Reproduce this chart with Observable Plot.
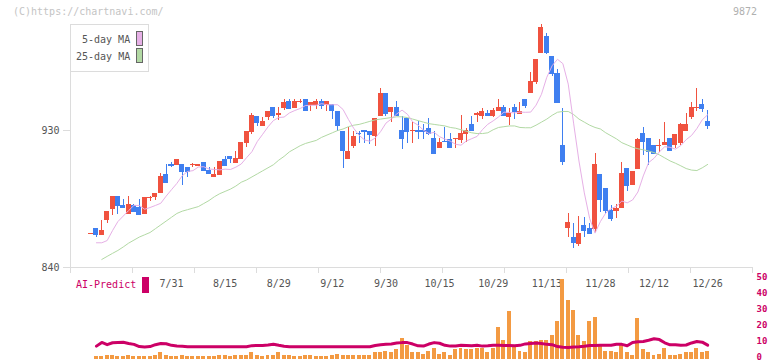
<!DOCTYPE html>
<html><head><meta charset="utf-8">
<script src="https://cdn.jsdelivr.net/npm/d3@7"></script>
<script src="https://cdn.jsdelivr.net/npm/@observablehq/plot@0.6"></script>
<style>
body{margin:0;background:#fff;}
#chart{position:relative;width:772px;height:361px;font-family:"DejaVu Sans Mono",monospace;overflow:hidden;}
#chart svg{position:absolute;left:0;}
.t{position:absolute;font-size:10px;line-height:10px;white-space:nowrap;z-index:5;}
.sw{position:absolute;z-index:5;}
</style></head><body>
<div id="chart"></div>
<script>
// ---- data ----
const dateLabels = ["7/31","8/15","8/29","9/12","9/30","10/15","10/29","11/13","11/28","12/12","12/26"];
const dateIndex  = [15,25,35,45,55,65,75,85,95,105,115];
const priceTicks = [840, 930];
const predictTicks = [0,10,20,30,40,50];
const prevCloses = [861, 857, 844, 857];

const opens = [862.0,865.4,861.0,870.9,878.1,886.6,880.7,874.8,880.7,879.6,
874.8,885.3,886.0,888.4,901.3,907.7,907.2,907.7,905.5,907.0,
906.6,909.0,903.9,899.3,900.7,911.0,913.1,908.5,911.2,921.7,
928.9,939.2,932.6,938.8,945.1,939.6,944.7,949.1,944.7,948.4,
950.4,946.2,946.2,949.1,946.2,947.1,942.7,929.3,911.2,919.5,
928.2,930.0,929.3,926.3,939.4,954.1,941.8,945.1,930.0,937.9,
929.6,930.0,930.0,931.3,924.7,918.4,923.0,924.1,923.8,923.3,
927.6,933.9,940.3,939.4,941.2,939.4,942.3,945.1,938.8,945.1,
940.5,950.4,954.5,961.8,980.8,991.8,978.6,967.4,920.1,865.8,
859.5,855.1,867.6,865.4,864.7,901.1,891.7,877.4,877.0,879.0,
905.0,894.1,904.4,928.0,924.7,919.9,919.7,920.1,924.7,920.4,
921.7,929.6,938.3,944.7,947.1,935.9];
const highs = [862.3,865.4,870.9,876.8,886.6,886.6,884.7,886.6,881.4,884.7,
886.0,886.6,888.6,902.0,907.7,909.0,911.0,907.7,905.5,908.1,
907.7,909.0,905.5,905.9,909.6,913.1,913.1,916.2,921.9,929.3,
941.4,939.2,938.8,942.5,945.1,945.1,950.4,950.4,950.4,950.4,
950.4,948.4,950.4,950.4,949.1,947.1,942.7,929.3,932.2,929.3,
929.3,930.0,929.3,937.7,957.8,954.1,945.1,949.1,939.2,937.9,
935.5,936.1,933.9,937.9,929.3,924.7,932.1,927.8,924.7,939.9,
931.3,939.4,941.6,944.7,943.4,944.7,950.4,946.7,944.5,947.3,
948.4,950.4,968.3,976.6,999.6,993.7,978.6,970.1,944.7,875.7,
869.1,873.5,873.1,869.1,914.7,901.1,891.7,880.7,881.6,908.8,
905.0,903.1,925.0,932.0,924.7,919.9,924.3,935.3,924.7,927.4,
934.5,941.2,948.4,957.6,950.4,943.1];
const lows = [861.7,859.9,861.0,868.7,874.2,874.8,879.0,874.8,876.4,874.2,
874.8,883.4,884.0,888.4,895.4,905.9,907.2,894.1,899.3,905.5,
906.6,903.3,901.3,899.3,900.7,906.6,908.5,908.5,911.2,918.6,
927.4,932.6,932.6,936.6,937.7,936.6,943.1,944.0,944.7,947.5,
942.2,942.7,944.0,944.0,942.7,937.4,929.3,905.3,911.2,918.4,
921.7,921.7,920.6,919.5,939.4,939.4,935.5,939.4,917.5,921.7,
921.7,924.1,924.1,926.7,914.5,918.4,921.9,918.4,918.4,921.7,
922.1,929.3,935.5,937.2,939.4,938.8,942.3,939.4,933.0,937.2,
940.5,944.5,954.3,960.0,980.8,980.0,965.5,948.0,907.0,859.9,
852.7,854.0,859.9,861.5,863.0,876.4,875.0,870.2,872.4,879.0,
890.1,894.1,904.4,913.8,907.2,914.5,915.5,920.1,916.4,918.2,
920.0,929.6,937.2,942.7,941.6,930.7];
const closes = [862.2,861.0,864.3,876.8,886.6,880.3,879.0,881.4,876.4,874.2,
886.0,885.8,888.6,899.8,895.4,906.6,911.0,902.6,902.6,907.2,
907.7,903.3,901.3,901.1,909.6,906.6,911.0,911.6,921.9,929.3,
939.9,934.8,936.1,942.5,939.4,941.4,948.4,944.0,949.1,949.2,
942.2,948.4,949.1,945.8,949.1,942.2,932.8,916.4,916.4,926.3,
927.2,928.5,926.7,937.7,954.1,940.7,945.1,939.4,924.1,928.7,
930.2,928.7,928.7,927.6,914.5,922.3,921.9,918.4,924.7,928.2,
930.0,929.3,940.7,942.3,939.4,942.9,945.1,939.4,941.2,941.8,
942.3,945.8,962.2,976.6,997.9,980.4,966.8,948.0,909.2,869.8,
856.0,862.1,863.6,861.5,907.7,884.0,876.8,871.3,878.5,901.8,
893.4,903.1,924.1,922.3,915.8,914.5,920.1,922.1,916.4,927.4,
933.9,933.9,944.9,945.1,943.8,932.6];
const ma25 = [null,null,
845.3,847.3,849.3,851.2,853.5,856,858,860,861.5,863,
865.5,868,870.5,873,875.5,877,878,879,880,882,
884,886.5,888.5,890,891.5,893.5,896,897.5,899.5,901.5,
903.5,905.5,907.5,910.5,913,916,918,920,921.5,922.5,
923.5,925.5,927,928.5,930,931,932.5,933.5,934,935,
936,937,937.5,938,938.5,939,939,938.5,937.5,936.5,
935.5,934.5,934,933.5,933,932,931.5,930.5,929.5,928.5,
928,928,928.5,930.5,932,932.5,933,933,932,931.8,
931.8,933.5,935.5,937.5,940,942,942.5,942.5,940.5,937.5,
935.5,933.5,932,931,928.5,926.5,924.5,922,920.5,919,
918,917.3,916.5,915.5,914,912,910,908.5,906.8,905,
904,903.7,905.5,907.7];
const barValues = [null,
1.3,1.3,2.5,2.5,1.7,1.3,2.5,1.3,1.3,1.7,
1.3,2.5,4.4,1.9,1.3,1.3,1.9,1.3,1.3,1.3,
1.3,1.3,1.3,1.9,2.5,1.3,1.9,2.5,2.5,4.4,
1.9,1.3,2.5,2.5,3.8,2.5,2.5,1.3,1.3,1.9,
1.9,1.3,1.3,1.3,1.9,3.1,2.5,2.5,2.5,1.9,
2.5,2.5,4.4,4.4,5.0,4.2,5.7,12.6,8.2,4.4,
3.8,3.1,5.0,6.9,3.1,3.8,2.3,5.7,6.9,5.7,
5.7,6.9,6.9,3.8,6.3,20.1,11.9,29.6,8.2,5.0,
4.4,10.7,11.3,11.9,11.9,14.5,23.3,50.3,36.5,30.8,
14.5,11.3,23.3,25.8,8.2,5.0,5.0,3.8,8.8,4.4,
2.3,25.2,5.7,4.4,2.5,3.1,6.3,1.9,1.9,3.1,
3.8,4.4,6.9,3.8,5.0];
const aiPredict = [null,
8.1,10.4,9.0,10.2,10.4,10.5,9.8,9.2,7.8,7.6,
7.8,9.0,9.8,9.6,8.6,8.2,8.0,7.7,7.7,7.7,
7.7,7.7,7.7,7.7,7.7,7.7,7.7,7.7,7.7,8.4,
8.5,8.5,8.8,9.3,8.6,8.0,7.7,7.7,7.7,7.7,
7.7,7.7,7.7,7.7,7.7,7.7,7.7,7.7,7.7,7.7,
7.7,7.7,8.5,9.0,9.2,9.4,10.0,10.3,10.3,9.4,
8.3,8.1,9.4,10.3,9.9,8.6,8.1,8.2,8.6,8.5,
8.3,8.6,8.1,8.3,8.6,8.6,8.5,8.5,8.4,8.6,
9.5,9.8,10.1,9.7,9.2,9.0,7.8,7.4,7.3,7.5,
7.7,8.0,8.5,8.5,8.6,8.6,8.6,9.3,9.2,8.3,
10.4,10.8,11.0,11.8,12.7,12.2,10.2,8.9,9.0,8.6,
8.8,10.1,11.0,10.6,8.7];

// ---- tables built from the arrays ----
const candles = closes.map((c, i) => ({i, o: opens[i], h: highs[i], l: lows[i], c}));
const allCloses = prevCloses.concat(closes);
const ma5Rows = closes.slice(0, closes.length - 1).map((_, j) => ({i: j + 1, v: d3.mean(allCloses.slice(j, j + 5))}));
const ma25Rows = ma25.map((v, i) => ({i, v}));
const barRows = barValues.map((v, i) => ({i, v}));
const aiRows = aiPredict.map((v, i) => ({i, v}));
const dateMap = new Map(dateIndex.map((d, k) => [d, dateLabels[k]]));

// ---- styling ----
const UP = "#f0523f", DOWN = "#3f7ff0";
const PINK = "#e6b0e6", GREEN = "#b2d9a4";
const MAGENTA = "#cc0066", ORANGE = "#f39a42";
const xDomain = [-3.84, 123.37];
const gridTicks = d3.range(12).map(k => xDomain[0] + k * (xDomain[1] - xDomain[0]) / 11);
const bodyHalf = 0.47, barHalf = 0.37, minBody = 0.7;
const pad = d => Math.max(0, minBody - Math.abs(d.o - d.c)) / 2;
const bodyLo = d => Math.min(d.o, d.c) - pad(d);
const bodyHi = d => Math.max(d.o, d.c) + pad(d);
const isUp = d => d.c >= d.o;
const crisp = {shapeRendering: "crispEdges"};

const topPlot = Plot.plot({
  width: 772, height: 361,
  marginLeft: 70, marginRight: 20, marginTop: 24, marginBottom: 94,
  x: {domain: xDomain, axis: null, label: null},
  y: {domain: [840, 999.64], axis: null, label: null},
  style: {fontFamily: "DejaVu Sans Mono, monospace", fontSize: "10px", background: "transparent", color: "#555"},
  marks: [
    Plot.frame({anchor: "left", stroke: "#dcdcdc"}),
    Plot.frame({anchor: "bottom", stroke: "#dcdcdc"}),
    Plot.axisY(priceTicks, {tickSize: 7, tickPadding: 4, stroke: "#dcdcdc", fill: "#555", label: null}),
    Plot.axisX(gridTicks, {tickSize: 6, tickFormat: () => "", stroke: "#dcdcdc", label: null}),
    Plot.axisX(dateIndex, {tickSize: 0, tickPadding: 12, tickFormat: d => dateMap.get(d), fill: "#555", label: null}),
    Plot.ruleX(candles, {filter: isUp, x: "i", y1: "l", y2: "h", stroke: UP, ...crisp}),
    Plot.ruleX(candles, {filter: d => !isUp(d), x: "i", y1: "l", y2: "h", stroke: DOWN, ...crisp}),
    Plot.rect(candles, {filter: isUp, x1: d => d.i - bodyHalf, x2: d => d.i + bodyHalf, y1: bodyLo, y2: bodyHi, fill: UP, ...crisp}),
    Plot.rect(candles, {filter: d => !isUp(d), x1: d => d.i - bodyHalf, x2: d => d.i + bodyHalf, y1: bodyLo, y2: bodyHi, fill: DOWN, ...crisp}),
    Plot.line(ma25Rows, {x: "i", y: "v", stroke: GREEN, strokeWidth: 1}),
    Plot.line(ma5Rows, {x: "i", y: "v", stroke: PINK, strokeWidth: 1})
  ]
});
topPlot.style.top = "0px";

// lower panel: svg starts at y=265 so the "50" label has room above the panel
const lowPlot = Plot.plot({
  width: 772, height: 96,
  marginLeft: 70, marginRight: 20, marginTop: 14, marginBottom: 2.5,
  x: {domain: xDomain, axis: null, label: null},
  y: {domain: [0, 50], axis: null, label: null},
  style: {fontFamily: "DejaVu Sans Mono, monospace", fontSize: "9px", background: "transparent"},
  marks: [
    Plot.axisY(predictTicks, {anchor: "right", tickSize: 0, tickPadding: 4, fill: MAGENTA, fontWeight: "bold", fontSize: 9, label: null, dy: -2}),
    Plot.rect(barRows, {filter: d => d.v != null, x1: d => d.i - barHalf, x2: d => d.i + barHalf, y1: 0, y2: "v", fill: ORANGE, ...crisp}),
    Plot.line(aiRows, {x: "i", y: "v", stroke: MAGENTA, strokeWidth: 3})
  ]
});
lowPlot.style.top = "265px";

const chart = document.getElementById("chart");
chart.append(topPlot, lowPlot);

// ---- texts & legend (real text) ----
function add(html) { chart.insertAdjacentHTML("beforeend", html); }
add('<div class="t" style="left:13px;top:7px;color:#c4c4c4">(C)https://chartnavi.com/</div>');
add('<div class="t" style="left:733px;top:7px;color:#b0b0b0">9872</div>');
add('<div class="sw" style="left:70px;top:24px;width:77px;height:46px;border:1px solid #dcdcdc;background:#fff"></div>');
add('<div class="t" style="left:82px;top:35px;color:#555">5-day MA</div>');
add('<div class="t" style="left:76px;top:52px;color:#555">25-day MA</div>');
add('<div class="sw" style="left:136px;top:31px;width:5px;height:13px;border:1px solid #666;background:' + PINK + '"></div>');
add('<div class="sw" style="left:136px;top:48px;width:5px;height:13px;border:1px solid #666;background:' + GREEN + '"></div>');
add('<div class="t" style="left:76px;top:280px;color:' + MAGENTA + '">AI-Predict</div>');
add('<div class="sw" style="left:142px;top:277px;width:7px;height:16px;background:' + MAGENTA + '"></div>');
</script>
</body></html>
